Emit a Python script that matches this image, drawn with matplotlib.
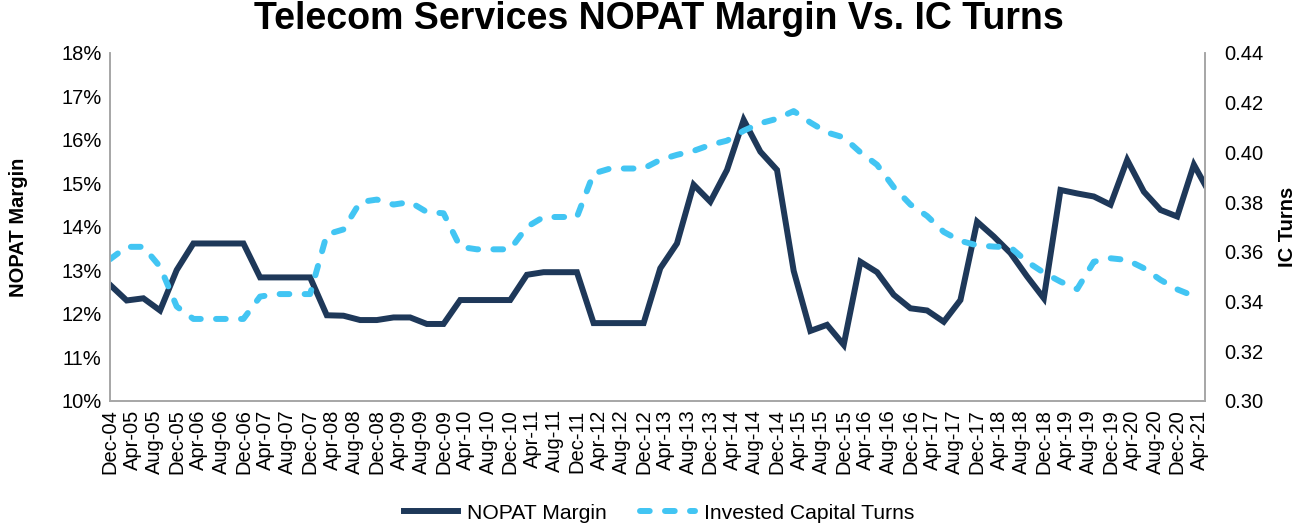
import matplotlib
matplotlib.use("Agg")
import matplotlib.pyplot as plt
from matplotlib.ticker import FuncFormatter, MultipleLocator
import numpy as np
import pandas as pd

plt.rcParams["font.family"] = ["Liberation Sans", "DejaVu Sans"]
plt.rcParams["lines.scale_dashes"] = False

# quarterly points Dec-04 .. Mar-21, plus the latest point (May-21)
dates = list(pd.date_range("2004-12-31", "2021-03-31", freq="QE")) + [pd.Timestamp("2021-05-19")]

nopat_margin = [
    12.67, 12.31, 12.36, 12.08, 13.01, 13.62, 13.62, 13.62, 13.62, 12.84,
    12.84, 12.84, 12.84, 11.97, 11.96, 11.86, 11.86, 11.92, 11.92, 11.77,
    11.77, 12.32, 12.32, 12.32, 12.32, 12.90, 12.96, 12.96, 12.96, 11.79,
    11.79, 11.79, 11.79, 13.05, 13.62, 14.97, 14.58, 15.31, 16.46, 15.73,
    15.31, 12.99, 11.61, 11.75, 11.29, 13.20, 12.96, 12.44, 12.13, 12.08,
    11.82, 12.32, 14.12, 13.78, 13.40, 12.86, 12.36, 14.85, 14.77, 14.70,
    14.51, 15.54, 14.81, 14.39, 14.24, 15.43, 14.97,
]

ic_turns = [
    0.357, 0.362, 0.362, 0.354, 0.338, 0.333, 0.333, 0.333, 0.333, 0.342,
    0.343, 0.343, 0.343, 0.367, 0.369, 0.380, 0.381, 0.379, 0.380, 0.376,
    0.3755, 0.362, 0.361, 0.361, 0.361, 0.370, 0.374, 0.374, 0.374, 0.3915,
    0.3935, 0.3935, 0.3935, 0.397, 0.399, 0.4006, 0.403, 0.4047, 0.4087, 0.4117,
    0.4135, 0.4166, 0.412, 0.408, 0.406, 0.400, 0.395, 0.386, 0.379, 0.3744,
    0.368, 0.3644, 0.3626, 0.3621, 0.3618, 0.356, 0.3516, 0.348, 0.345, 0.356,
    0.3574, 0.3567, 0.3534, 0.3487, 0.3449, 0.3422, np.nan,
]

tick_dates = pd.date_range("2004-12-01", "2021-04-01", freq="4MS")
tick_labels = [d.strftime("%b-%y") for d in tick_dates]


def month_index(d):
    # months since Dec-04
    return (d.year - 2004) * 12 + d.month - 12


x = [month_index(d) for d in dates]
xt = [month_index(d) for d in tick_dates]

navy = "#1E3859"
sky = "#42C5F3"
gray = "#A6A6A6"

fig = plt.figure(figsize=(13.02, 5.29), dpi=100)
ax = fig.add_axes([0.0845, 0.242, 0.841, 0.658])
ax2 = ax.twinx()

l1, = ax.plot(x, np.array(nopat_margin) / 100, color=navy, lw=4.3,
              solid_joinstyle="miter", label="NOPAT Margin")
l2, = ax2.plot(x, ic_turns, color=sky, lw=4.3, dashes=(7, 11),
               dash_capstyle="round", label="Invested Capital Turns")

ax.set_xlim(0, x[-1])
ax.set_ylim(0.10, 0.18)
ax2.set_ylim(0.30, 0.44)
ax.yaxis.set_major_locator(MultipleLocator(0.01))
ax.yaxis.set_major_formatter(FuncFormatter(lambda v, p: f"{v * 100:.0f}%"))
ax2.yaxis.set_major_locator(MultipleLocator(0.02))
ax2.yaxis.set_major_formatter(FuncFormatter(lambda v, p: f"{v:.2f}"))

ax.set_xticks(xt)
ax.set_xticklabels(tick_labels, rotation=90, fontsize=14.5)
ax.tick_params(axis="both", length=0, labelsize=14.5, pad=6)
ax2.tick_params(axis="y", length=0, labelsize=14.5, pad=14)

for a in (ax, ax2):
    a.spines["top"].set_visible(False)
    for s in ("left", "right", "bottom"):
        a.spines[s].set_color(gray)
        a.spines[s].set_linewidth(1.2)

ax.set_ylabel("NOPAT Margin", fontsize=14.5, fontweight="bold", labelpad=24)
ax2.set_ylabel("IC Turns", fontsize=14.5, fontweight="bold", labelpad=10)

fig.suptitle("Telecom Services NOPAT Margin Vs. IC Turns", fontsize=27,
             fontweight="bold", x=0.506, y=0.998)

fig.legend(handles=[l1, l2], loc="center", bbox_to_anchor=(0.506, 0.03),
           ncol=2, frameon=False, fontsize=15.2, handlelength=2.6,
           columnspacing=1.6, handletextpad=0.4)

fig.savefig("out.png", dpi=100)
